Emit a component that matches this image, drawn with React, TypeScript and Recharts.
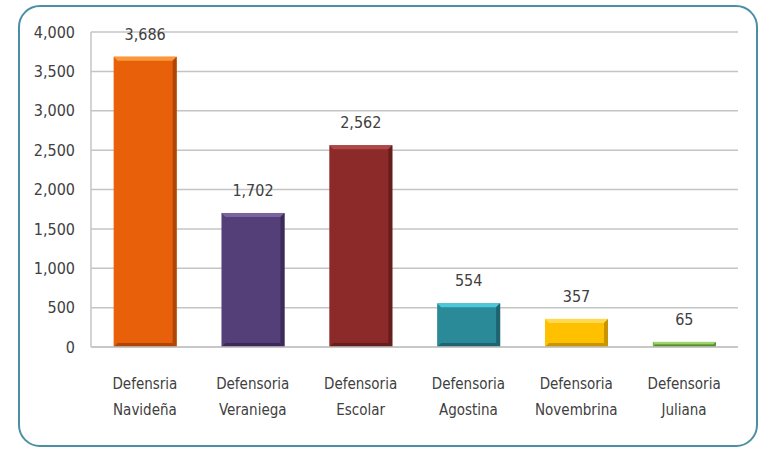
import React from 'react';
import { BarChart, Bar, XAxis, YAxis, CartesianGrid, LabelList, Cell } from 'recharts';

const categories = [
  'Defensria Navideña',
  'Defensoria Veraniega',
  'Defensoria Escolar',
  'Defensoria Agostina',
  'Defensoria Novembrina',
  'Defensoria Juliana',
];
const values = [3686, 1702, 2562, 554, 357, 65];
const yTicks = [0, 500, 1000, 1500, 2000, 2500, 3000, 3500, 4000];

const COLORS = [
  { base: '#E8600A', light: '#F89A3A', dark: '#B04606' },
  { base: '#553F78', light: '#7A64A0', dark: '#3C2B58' },
  { base: '#8C2A2A', light: '#B04848', dark: '#661D1D' },
  { base: '#2A8A98', light: '#4CC8D8', dark: '#1D6370' },
  { base: '#FFC000', light: '#FFDA50', dark: '#C89400' },
  { base: '#7AB648', light: '#9ED46A', dark: '#5A8A32' },
];

const data = categories.map((name, i) => ({ name, value: values[i] }));

const FONT = '"Liberation Sans Narrow", "DejaVu Sans Condensed", "Open Sans", sans-serif';

const BevelBar = (props: any) => {
  const { x, y, width, height, index } = props;
  if (!height || height <= 0) return null;
  const c = COLORS[index % COLORS.length];
  const b = Math.min(4, height / 2);
  return (
    <g>
      <rect x={x} y={y} width={width} height={height} fill={c.base} />
      <polygon
        points={`${x},${y} ${x + width},${y} ${x + width - b},${y + b} ${x + b},${y + b}`}
        fill={c.light}
      />
      <polygon
        points={`${x + width},${y} ${x + width},${y + height} ${x + width - b},${y + height - b} ${x + width - b},${y + b}`}
        fill={c.dark}
      />
      <polygon
        points={`${x},${y + height} ${x + width},${y + height} ${x + width - b},${y + height - b} ${x + b},${y + height - b}`}
        fill={c.dark}
      />
    </g>
  );
};

const CategoryTick = (props: any) => {
  const { x, y, payload } = props;
  const parts = String(payload.value).split(' ');
  return (
    <text x={x} y={y} textAnchor="middle" fill="#404040" fontSize={15} fontFamily={FONT}>
      <tspan x={x} dy={34}>{parts[0]}</tspan>
      <tspan x={x} dy={26}>{parts[1]}</tspan>
    </text>
  );
};

export default function App() {
  return (
    <div style={{ position: 'absolute', left: 0, top: 0, width: 761, height: 449, background: '#fff' }}>
      <div
        style={{
          position: 'absolute',
          left: 18,
          top: 5,
          width: 736,
          height: 438,
          border: '2px solid #4A8FA3',
          borderRadius: 22,
        }}
      />
      <div style={{ position: 'absolute', left: 0, top: 0 }}>
        <BarChart
          width={761}
          height={449}
          data={data}
          margin={{ top: 32, right: 23, bottom: 22, left: 0 }}
          barCategoryGap="21%"
        >
          <CartesianGrid vertical={false} stroke="#C4C4C4" strokeWidth={1.5} />
          <XAxis
            dataKey="name"
            axisLine={{ stroke: '#C4C4C4', strokeWidth: 1.5 }}
            tickLine={false}
            interval={0}
            height={80}
            tick={<CategoryTick />}
          />
          <YAxis
            width={91}
            domain={[0, 4000]}
            ticks={yTicks}
            interval={0}
            axisLine={{ stroke: '#C4C4C4', strokeWidth: 1.5 }}
            tickLine={false}
            tickSize={0}
            tickMargin={16}
            tickFormatter={(v: number) => v.toLocaleString('en-US')}
            tick={{ fill: '#404040', fontSize: 16, fontFamily: FONT }}
          />
          <Bar dataKey="value" shape={<BevelBar />} isAnimationActive={false}>
            {data.map((d, i) => (
              <Cell key={d.name} fill={COLORS[i].base} />
            ))}
            <LabelList
              dataKey="value"
              position="top"
              offset={17}
              formatter={(v: any) => Number(v).toLocaleString('en-US')}
              style={{ fill: '#404040', fontSize: 16, fontFamily: FONT }}
            />
          </Bar>
        </BarChart>
      </div>
    </div>
  );
}
